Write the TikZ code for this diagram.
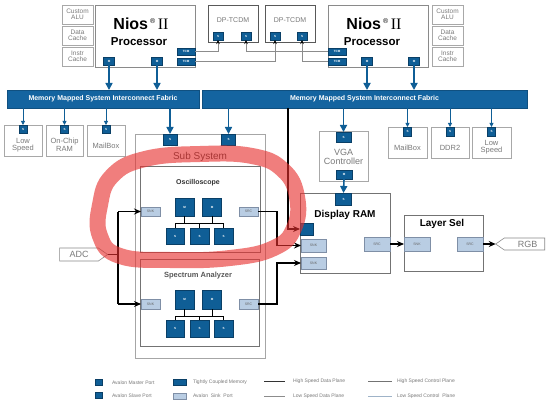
\documentclass[tikz,border=0pt]{standalone}
\usepackage{fontspec}
\setmainfont{Liberation Sans}
\newfontfamily\nserif{Liberation Serif}
\usetikzlibrary{arrows.meta,shapes.symbols}
\definecolor{pblue}{HTML}{0F5E96}
\definecolor{pdark}{HTML}{0A3F66}
\definecolor{fblue}{HTML}{1464A0}
\definecolor{bgray}{HTML}{8A8A8A}
\definecolor{lgray}{HTML}{A8A8A8}
\definecolor{tgray}{HTML}{7A7A7A}
\definecolor{sinkc}{HTML}{B9CDE3}
\definecolor{sinkb}{HTML}{7F8FA6}
\definecolor{hlred}{HTML}{E8302E}
\definecolor{lsc}{HTML}{9FB3C8}
\newcommand\fsz[1]{\fontsize{#1}{#1}\selectfont}
\begin{document}
\begin{tikzpicture}[x=1pt,y=-1pt,
  every node/.style={inner sep=0pt,outer sep=0pt},
  wh/.style 2 args={minimum width=#1pt,minimum height=#2pt},
  proc/.style={draw=bgray,line width=0.8pt,fill=white},
  side/.style={draw=lgray,line width=0.6pt,fill=white,text=tgray,font=\fsz{6.5},align=center},
  slave/.style={draw=lgray,line width=0.6pt,fill=white},
  slavetxt/.style={text=tgray,font=\fsz{7.5},align=center},
  dpbox/.style={draw=black!65,line width=0.8pt,fill=white},
  port/.style={fill=pblue,draw=pdark,line width=0.3pt,text=white,font=\bfseries\fsz{3}},
  sinkport/.style={fill=sinkc,draw=sinkb,line width=0.5pt,text=black!60,font=\fsz{3.5}},
  fabric/.style={fill=fblue,draw=fblue!80!black,line width=0.5pt,text=white,font=\bfseries\fsz{7}},
  compbox/.style={draw=black!55,line width=0.7pt,fill=white},
  innerbox/.style={fill=pblue,draw=pdark,line width=0.4pt,text=white,font=\bfseries\fsz{3}},
  bluearr/.style={draw=pblue,line width=1.6pt,-{Triangle[width=7pt,length=7pt]}},
  thinarr/.style={draw=pblue,line width=0.8pt,-{Triangle[width=4pt,length=4pt]}},
  tcmw/.style={draw=black!45,line width=0.6pt,-{Stealth[length=4pt,width=3.5pt,color=black]}},
  blk/.style={draw=black,line width=1.1pt},
  blkarr/.style={draw=black,line width=1.1pt,-{Stealth[length=7pt,width=6pt]}},
  wire/.style={draw=black,line width=0.8pt},
  legtxt/.style={text=tgray,font=\fsz{5},anchor=west},
  hl/.style={draw=hlred,line width=16pt,opacity=0.62,line cap=round,line join=round}
]
\useasboundingbox[fill=white] (0,0) rectangle (553,406);

% ---------- left Nios processor ----------
\node[proc,wh={100}{62}] (lnios) at (145,36) {};
\node[font=\bfseries\fsz{16}] (lniost) at (141,24) {Nios\raisebox{6pt}{\mdseries\fsz{7}~®}\,{\nserif\mdseries II}};
\node[font=\bfseries\fsz{11.5}] (lproc) at (139,42) {Processor};
\node[side,wh={31}{19}] (lca) at (77.5,14.5) {Custom\\ALU};
\node[side,wh={31}{19}] (ldc) at (77.5,35.5) {Data\\Cache};
\node[side,wh={31}{19}] (lic) at (77.5,56.5) {Instr\\Cache};
\node[port,wh={11}{8}] (lm1) at (109,61.5) {M};
\node[port,wh={11}{8}] (lm2) at (157,61.5) {M};
\node[port,wh={18}{7}] (lt1) at (186,51.5) {TCM};
\node[port,wh={18}{7}] (lt2) at (186,61.5) {TCM};

% ---------- DP-TCDM ----------
\node[dpbox,wh={50}{37}] (dp1) at (233,23.5) {};
\node[text=tgray,font=\fsz{7}] (dp1t) at (233,20) {DP-TCDM};
\node[port,wh={10}{8}] (d1a) at (218,36) {S};
\node[port,wh={10}{8}] (d1b) at (246,36) {S};
\node[dpbox,wh={50}{37}] (dp2) at (290,23.5) {};
\node[text=tgray,font=\fsz{7}] (dp2t) at (290,20) {DP-TCDM};
\node[port,wh={10}{8}] (d2a) at (275,36) {S};
\node[port,wh={10}{8}] (d2b) at (302,36) {S};

% ---------- right Nios processor ----------
\node[proc,wh={100}{62}] (rnios) at (378,36) {};
\node[font=\bfseries\fsz{16}] (rniost) at (374,24) {Nios\raisebox{6pt}{\mdseries\fsz{7}~®}\,{\nserif\mdseries II}};
\node[font=\bfseries\fsz{11.5}] (rproc) at (372,42) {Processor};
\node[side,wh={31}{19}] (rca) at (447.5,14.5) {Custom\\ALU};
\node[side,wh={31}{19}] (rdc) at (447.5,35.5) {Data\\Cache};
\node[side,wh={31}{19}] (ric) at (447.5,56.5) {Instr\\Cache};
\node[port,wh={18}{7}] (rt1) at (337,51.5) {TCM};
\node[port,wh={18}{7}] (rt2) at (337,61.5) {TCM};
\node[port,wh={11}{8}] (rm1) at (367,61.5) {M};
\node[port,wh={11}{8}] (rm2) at (414,61.5) {M};

% TCM wires
\draw[tcmw] (lt1.east) -| (d1a.south);
\draw[tcmw] (lt2.east) -| (d2a.south);
\draw[tcmw] (rt1.west) -| (d1b.south);
\draw[tcmw] (rt2.west) -| (d2b.south);

% ---------- fabrics ----------
\node[fabric,wh={192}{18}] (fabL) at (103,99) {Memory Mapped System Interconnect Fabric};
\node[fabric,wh={325}{18}] (fabR) at (364.5,99) {Memory Mapped System Interconnect Fabric};

\draw[bluearr] (lm1.south) -- (lm1.south |- fabL.north);
\draw[bluearr] (lm2.south) -- (lm2.south |- fabL.north);
\draw[bluearr] (rm1.south) -- (rm1.south |- fabR.north);
\draw[bluearr] (rm2.south) -- (rm2.south |- fabR.north);

% ---------- left slaves ----------
\node[slave,wh={38}{31}] (lls) at (23,140.5) {};
\node[slave,wh={37}{31}] (ocr) at (64.5,140.5) {};
\node[slave,wh={38}{31}] (lmb) at (106,140.5) {};
\node[slavetxt] (llst) at (23,145) {Low\\Speed};
\node[slavetxt] (ocrt) at (64.5,145) {On-Chip\\RAM};
\node[slavetxt] (lmbt) at (106,146) {MailBox};
\node[port,wh={8}{8}] (llss) at (23,129) {S};
\node[port,wh={8}{8}] (ocrs) at (64.5,129) {S};
\node[port,wh={8}{8}] (lmbs) at (106,129) {S};
\draw[thinarr] (fabL.south -| llss.north) -- (llss.north);
\draw[thinarr] (fabL.south -| ocrs.north) -- (ocrs.north);
\draw[thinarr] (fabL.south -| lmbs.north) -- (lmbs.north);

% ---------- right slaves ----------
\node[slave,wh={39}{31}] (rmb) at (407.5,142.5) {};
\node[slave,wh={38}{31}] (ddr) at (450,142.5) {};
\node[slave,wh={39}{31}] (rls) at (491.5,142.5) {};
\node[slavetxt] (rmbt) at (407.5,148) {MailBox};
\node[slavetxt] (ddrt) at (450,148) {DDR2};
\node[slavetxt] (rlst) at (491.5,147) {Low\\Speed};
\node[port,wh={8}{9}] (rmbs) at (407.5,131.5) {S};
\node[port,wh={8}{9}] (ddrs) at (450,131.5) {S};
\node[port,wh={8}{9}] (rlss) at (491.5,131.5) {S};
\draw[thinarr] (fabR.south -| rmbs.north) -- (rmbs.north);
\draw[thinarr] (fabR.south -| ddrs.north) -- (ddrs.north);
\draw[thinarr] (fabR.south -| rlss.north) -- (rlss.north);

% ---------- Sub System ----------
\node[draw=black!35,line width=0.7pt,fill=white,wh={130}{224}] (sub) at (200,246) {};
\node[text=black!75,font=\fsz{10}] (subt) at (200,157) {Sub System};
\node[port,wh={14}{11}] (ss1) at (170,139.5) {S};
\node[port,wh={14}{11}] (ss2) at (228.5,139.5) {S};
\draw[bluearr] (fabL.south -| ss1.north) -- (ss1.north);
\draw[bluearr] (fabR.south -| ss2.north) -- (ss2.north);

% Oscilloscope
\node[compbox,wh={120}{86}] (osc) at (200,209) {};
\node[font=\bfseries\fsz{7},text=black!80] (osct) at (198,183) {Oscilloscope};
\node[sinkport,wh={19}{9}] (osnk) at (150.5,211.5) {SNK};
\node[sinkport,wh={19}{9}] (osrc) at (248.5,211.5) {SRC};
\node[innerbox,wh={19}{18}] (om1) at (184.5,207) {M};
\node[innerbox,wh={19}{18}] (om2) at (212,207) {M};
\node[innerbox,wh={18}{16}] (os1) at (175,236) {S};
\node[innerbox,wh={19}{16}] (os2) at (199.5,236) {S};
\node[innerbox,wh={19}{16}] (os3) at (223.5,236) {S};
\coordinate (ob) at (0,223);
\draw[wire] (om1.south) -- (om1.south |- ob);
\draw[wire] (om2.south) -- (om2.south |- ob);
\draw[wire] (os1.north) |- (os3.north |- ob) -- (os3.north);
\draw[wire] (os2.north) -- (os2.north |- ob);

% Spectrum Analyzer
\node[compbox,wh={119}{87}] (spe) at (199.5,302.5) {};
\node[font=\bfseries\fsz{7.5},text=black!65] (spet) at (198,276) {Spectrum Analyzer};
\node[sinkport,wh={19}{10}] (ssnk) at (150.5,304) {SNK};
\node[sinkport,wh={19}{10}] (ssrc) at (248.5,304) {SRC};
\node[innerbox,wh={19}{19}] (sm1) at (184.5,299.5) {M};
\node[innerbox,wh={19}{19}] (sm2) at (212,299.5) {M};
\node[innerbox,wh={18}{17}] (sv1) at (175,328.5) {S};
\node[innerbox,wh={19}{17}] (sv2) at (199.5,328.5) {S};
\node[innerbox,wh={19}{17}] (sv3) at (223.5,328.5) {S};
\coordinate (sb) at (0,316);
\draw[wire] (sm1.south) -- (sm1.south |- sb);
\draw[wire] (sm2.south) -- (sm2.south |- sb);
\draw[wire] (sv1.north) |- (sv3.north |- sb) -- (sv3.north);
\draw[wire] (sv2.north) -- (sv2.north |- sb);

% ---------- VGA / Display RAM / Layer Sel ----------
\node[slave,wh={49}{50}] (vga) at (343.5,156) {};
\node[slavetxt,font=\fsz{9}] (vgat) at (343.5,157) {VGA\\Controller};
\node[port,wh={15}{10}] (vgas) at (343.5,137) {S};
\node[port,wh={16}{9}] (vgam) at (344,174.5) {M};
\draw[bluearr] (fabR.south -| vgas.north) -- (vgas.north);

\node[compbox,wh={90}{80}] (dram) at (345,233) {};
\node[font=\bfseries\fsz{10}] (dramt) at (345,215) {Display RAM};
\node[port,wh={16}{12}] (drs) at (343.5,199) {S};
\draw[bluearr] (vgam.south) -- (drs.north);
\node[port,wh={13}{12}] (drsq) at (306.5,229) {};
\node[sinkport,wh={25}{13}] (dsnk1) at (313.5,245.5) {SNK};
\node[sinkport,wh={25}{12}] (dsnk2) at (313.5,263) {SNK};
\node[sinkport,wh={26}{14}] (dsrc) at (377,244) {SRC};

\node[compbox,wh={79}{56}] (lsel) at (443.5,243) {};
\node[font=\bfseries\fsz{10}] (lselt) at (442,224) {Layer Sel};
\node[sinkport,wh={26}{14}] (lsnk) at (417,244) {SNK};
\node[sinkport,wh={26}{14}] (lsrc) at (470,244) {SRC};

\node[signal,signal to=west,signal pointer angle=70,draw=bgray,line width=0.6pt,fill=white,
      text=tgray,font=\fsz{9},wh={49}{12}] (rgb) at (524.5,244) {\hspace{6pt}RGB};
\node[signal,signal to=east,signal pointer angle=70,draw=bgray,line width=0.6pt,fill=white,
      text=tgray,font=\fsz{9},wh={48}{13}] (adc) at (79,254.5) {ADC\hspace{6pt}};

% ---------- black data wires ----------
\coordinate (busT) at (118,211.5);
\coordinate (busB) at (118,304);
\coordinate (jx) at (277,0);
\coordinate (fx) at (288,0);
\draw[blk] (adc.east) -- (adc.east -| busT);
\draw[blk] (busT) -- (busB);
\draw[blkarr] (busT) -- (osnk.west);
\draw[blkarr] (busB) -- (ssnk.west);
\draw[blkarr] (osrc.east) -- (osrc.east -| jx) |- (dsnk1.west);
\draw[blkarr] (ssrc.east) -- (ssrc.east -| jx) |- (dsnk2.west);
\draw[blkarr] (fabR.south -| fx) |- (drsq.west);
\draw[blkarr] (dsrc.east) -- (lsnk.west);
\draw[blkarr] (lsrc.east) -- (rgb.west);

% ---------- legend ----------
\node[port,wh={7}{6}] (lgm) at (98.5,382.5) {};
\node[legtxt] (lgmt) at (112,382.5) {Avalon Master Port};
\node[port,wh={7}{6}] (lgs) at (98.5,395.5) {};
\node[legtxt] (lgst) at (112,395.5) {Avalon Slave Port};
\node[port,wh={13}{6}] (lgt) at (179.5,382.5) {};
\node[legtxt] (lgtt) at (193,382.5) {Tightly Coupled Memory};
\node[sinkport,wh={13}{6}] (lgk) at (179.5,396) {};
\node[legtxt] (lgkt) at (193,395.5) {Avalon~ Sink~ Port};
\coordinate (l1a) at (264,381); \coordinate (l1b) at (285,381);
\coordinate (l2a) at (264,396); \coordinate (l2b) at (285,396);
\coordinate (l3a) at (368,381); \coordinate (l3b) at (392,381);
\coordinate (l4a) at (368,396); \coordinate (l4b) at (392,396);
\draw[black!80,line width=0.8pt] (l1a) -- (l1b);
\draw[black!45,line width=0.8pt] (l2a) -- (l2b);
\draw[black!55,line width=0.8pt] (l3a) -- (l3b);
\draw[lsc,line width=0.8pt] (l4a) -- (l4b);
\node[legtxt] (lg1) at (293,381) {High Speed Data Plane};
\node[legtxt] (lg2) at (293,396) {Low Speed Data Plane};
\node[legtxt] (lg3) at (397,381) {High Speed Control Plane};
\node[legtxt] (lg4) at (397,396) {Low Speed Control~ Plane};

% ---------- red highlight ----------
\draw[hl] plot[smooth cycle,tension=0.75] coordinates {
  (200,154) (252,156) (283,170) (297,197) (294,228) (274,248) (230,258)
  (170,260) (120,256) (100,236) (100,205) (112,176) (145,159)};
\end{tikzpicture}
\end{document}
